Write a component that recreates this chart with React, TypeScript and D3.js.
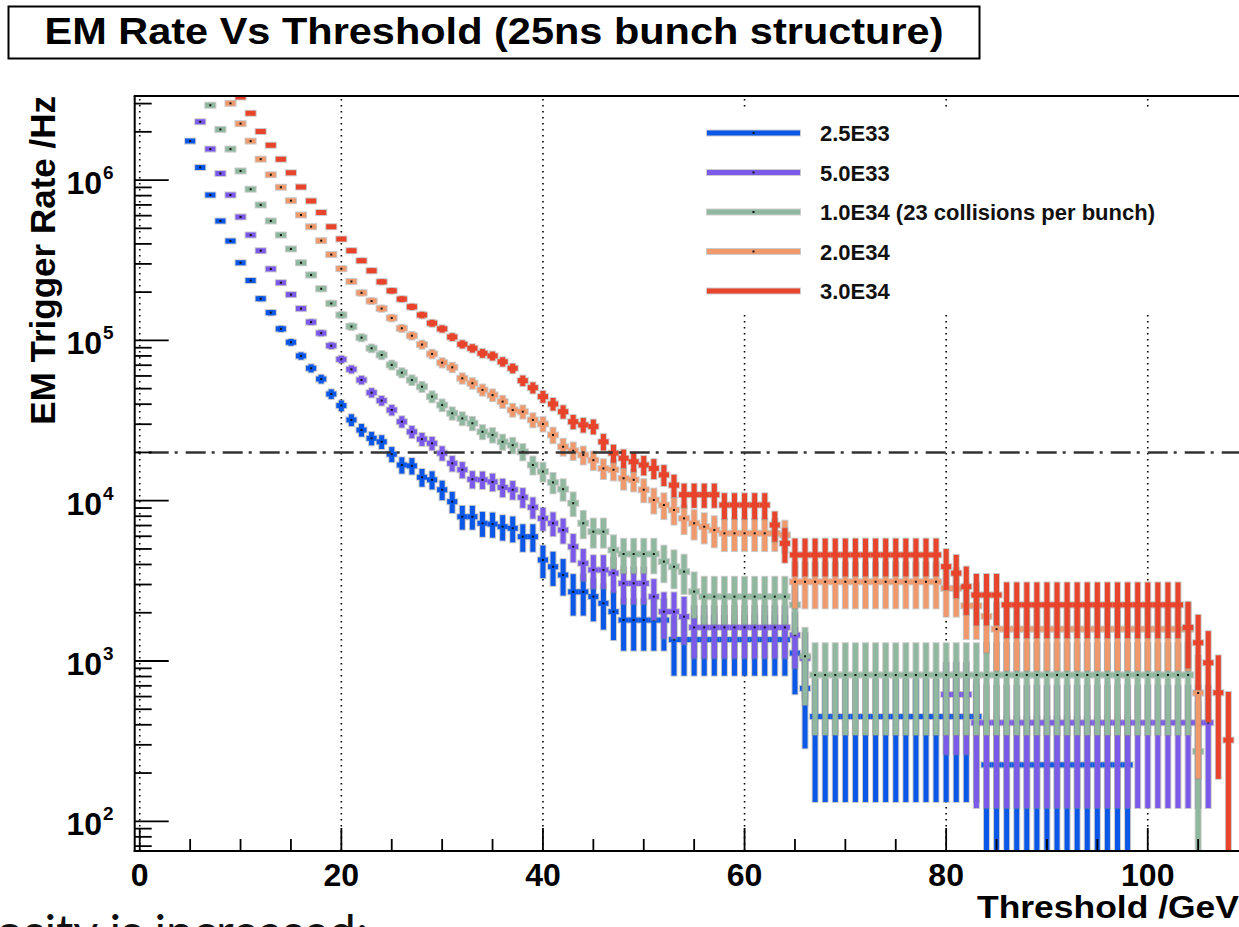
import React from "react";
import * as d3 from "d3";

const W = 1239;
const H = 927;
const FONT = "'Liberation Sans', Arial, Helvetica, sans-serif";

// ---- axes -------------------------------------------------------------
const xDomain: [number, number] = [-0.5, 120.5];
const yDomain: [number, number] = [65.27, 3.346e6];
const xMajorTicks = [0, 20, 40, 60, 80, 100, 120];
const xLabelTicks = [0, 20, 40, 60, 80, 100];
const xMinorTicks = [5, 10, 15, 25, 30, 35, 45, 50, 55, 65, 70, 75, 85, 90, 95, 105, 110, 115];
const yDecades = [100, 1000, 10000, 100000, 1000000];
const yDecadeExponents = ["2", "3", "4", "5", "6"];
const yMinorMultipliers = [2, 3, 4, 5, 6, 7, 8, 9];
const rateBudget = 20000; // dash-dot reference line

const titleText = "EM Rate Vs Threshold (25ns bunch structure)";
const xTitle = "Threshold /GeV";
const yTitle = "EM Trigger Rate /Hz";
const footText = "osity is increased:";

const seriesLabels = ["2.5E33", "5.0E33", "1.0E34 (23 collisions per bunch)", "2.0E34", "3.0E34"];
const seriesColors = ["#0b57e8", "#7b5aea", "#8fb89e", "#ef996d", "#e8432b"];
const seriesDots = [true, true, true, true, false];

// ---- 2.5E33 : bins 5..98 ---------------------------------------------
const blueStart = 5;
const blueRate = [
  1750000, 1200000, 807000, 556000, 417000, 305000, 236000, 182000, 149000, 118000,
  97300, 80000, 67000, 57400, 46300, 39200, 31900, 27600, 24500, 23300,
  19500, 16700, 16500, 14000, 13500, 11700, 9860, 7940, 7940, 7230,
  7150, 6880, 6730, 5960, 5960, 4270, 3870, 3440, 2700, 2700,
  2520, 2290, 2030, 1800, 1800, 1800, 1800, 1800, 1360, 1360,
  1360, 1360, 1360, 1360, 1360, 1360, 1360, 1360, 1360, 1360,
  1120, 675, 450, 450, 450, 450, 450, 450, 450, 450,
  450, 450, 450, 450, 450, 450, 450, 450, 450, 225,
  225, 225, 225, 225, 225, 225, 225, 225, 225, 225,
  225, 225, 225, 225,
];
const blueErr = [
  19800, 16400, 13500, 11200, 9700, 8300, 7300, 6400, 5800, 5200,
  4700, 4200, 3900, 3600, 3200, 3000, 2700, 2500, 2350, 2290,
  2100, 1940, 1930, 1770, 1740, 1620, 1490, 1340, 1340, 1280,
  1270, 1240, 1230, 1160, 1160, 980, 930, 880, 780, 780,
  750, 720, 680, 640, 640, 640, 640, 640, 550, 550,
  550, 550, 550, 550, 550, 550, 550, 550, 550, 550,
  500, 390, 318, 318, 318, 318, 318, 318, 318, 318,
  318, 318, 318, 318, 318, 318, 318, 318, 318, 225,
  225, 225, 225, 225, 225, 225, 225, 225, 225, 225,
  225, 225, 225, 225,
];

// ---- 5.0E33 : bins 6..106 (empty bins are null) ------------------------
const purpleStart = 6;
const purpleRate = [
  2310000, 1560000, 1100000, 807000, 589000, 454000, 363000, 279000, 229000, 193000,
  158000, 130000, 111000, 92700, 76200, 66000, 56600, 47200, 42100, 36800,
  31100, 26900, 24200, 22800, 19800, 17100, 15600, 13600, 13500, 13100,
  12100, 11700, 10500, 9100, 7760, 7230, 6560, 5160, 4070, 3700,
  3700, 3530, 3050, 3050, 3050, 2520, 2030, 2030, 1890, 1620,
  1620, 1620, 1620, 1620, 1620, 1620, 1620, 1620, 1620, 1450,
  1040, null, null, null, null, null, null, null, null, null,
  null, null, null, null, 618, 618, 618, 412, 412, 412,
  412, 412, 412, 412, 412, 412, 412, 412, 412, 412,
  412, 412, 412, 412, 412, 412, 412, 412, 412, 412,
  412,
];
const purpleErr = [
  21800, 17900, 15100, 12900, 11000, 9700, 8600, 7600, 6900, 6300,
  5700, 5200, 4800, 4400, 4000, 3700, 3400, 3100, 2900, 2750,
  2530, 2350, 2230, 2170, 2020, 1880, 1790, 1670, 1670, 1640,
  1580, 1550, 1470, 1370, 1260, 1220, 1160, 1030, 920, 870,
  870, 850, 790, 790, 790, 720, 650, 650, 620, 580,
  580, 580, 580, 580, 580, 580, 580, 580, 580, 550,
  460, null, null, null, null, null, null, null, null, null,
  null, null, null, null, 357, 357, 357, 291, 291, 291,
  291, 291, 291, 291, 291, 291, 291, 291, 291, 291,
  291, 291, 291, 291, 291, 291, 291, 291, 291, 291,
  291,
];

// ---- 1.0E34 : bins 7..105 ---------------------------------------------
const greenStart = 7;
const greenRate = [
  2930000, 2070000, 1560000, 1140000, 877000, 700000, 556000, 454000, 372000, 305000,
  256000, 210000, 170000, 144000, 122000, 104000, 89300, 81100, 70300, 62900,
  56600, 51400, 44600, 39500, 35100, 32600, 30400, 26900, 25700, 23300,
  22200, 20200, 16700, 15200, 13000, 11800, 9640, 7230, 6410, 6410,
  4920, 4650, 4650, 4650, 4650, 4170, 3870, 3610, 2710, 2520,
  2520, 2520, 2520, 2520, 2520, 2520, 2520, 2520, 2240, 1070,
  818, 818, 818, 818, 818, 818, 818, 818, 818, 818,
  818, 818, 818, 818, 818, 818, 818, 818, 818, 818,
  818, 818, 818, 818, 818, 818, 818, 818, 818, 818,
  818, 818, 818, 818, 818, 818, 818, 818, 273,
];
const greenErr = [
  28300, 23800, 20600, 17600, 15500, 13800, 12300, 11100, 10100, 9100,
  8400, 7600, 6800, 6300, 5800, 5300, 4900, 4700, 4400, 4100,
  3900, 3700, 3500, 3300, 3100, 3000, 2900, 2700, 2650, 2520,
  2460, 2350, 2140, 2040, 1880, 1800, 1620, 1400, 1320, 1320,
  1160, 1130, 1130, 1130, 1130, 1070, 1030, 990, 860, 830,
  830, 830, 830, 830, 830, 830, 830, 830, 780, 540,
  473, 473, 473, 473, 473, 473, 473, 473, 473, 473,
  473, 473, 473, 473, 473, 473, 473, 473, 473, 473,
  473, 473, 473, 473, 473, 473, 473, 473, 473, 473,
  473, 473, 473, 473, 473, 473, 473, 473, 273,
];

// ---- 2.0E34 : bins 9..105 ---------------------------------------------
const orangeStart = 9;
const orangeRate = [
  3010000, 2250000, 1750000, 1350000, 1080000, 902000, 744000, 606000, 512000, 419000,
  343000, 280000, 233000, 198000, 176000, 158000, 138000, 119000, 107000, 94200,
  82300, 72600, 67900, 58000, 54000, 49100, 45600, 41500, 36800, 35900,
  31900, 30100, 25700, 21700, 20500, 19300, 17900, 15900, 15600, 13800,
  13500, 11700, 10100, 9400, 8750, 7760, 7230, 6880, 6560, 6260,
  6260, 6260, 6260, 6260, 6260, 6110, 3120, 3120, 3120, 3120,
  3120, 3120, 3120, 3120, 3120, 3120, 3120, 3120, 3120, 3120,
  3120, 2840, 2840, 2210, 2210, 1900, 1580, 1580, 1580, 1580,
  1580, 1580, 1580, 1580, 1580, 1580, 1580, 1580, 1580, 1580,
  1580, 1580, 1580, 1580, 1580, 1580, 632,
];
const orangeErr = [
  30800, 26700, 23500, 20700, 18500, 16900, 15300, 13800, 12700, 11500,
  10400, 9400, 8600, 7900, 7500, 7100, 6600, 6100, 5800, 5500,
  5100, 4800, 4600, 4300, 4100, 3900, 3800, 3600, 3400, 3370,
  3200, 3100, 2850, 2620, 2550, 2470, 2380, 2240, 2220, 2090,
  2070, 1920, 1790, 1720, 1660, 1570, 1510, 1470, 1440, 1410,
  1410, 1410, 1410, 1410, 1410, 1390, 990, 990, 990, 990,
  990, 990, 990, 990, 990, 990, 990, 990, 990, 990,
  990, 950, 950, 840, 840, 770, 710, 710, 710, 710,
  710, 710, 710, 710, 710, 710, 710, 710, 710, 710,
  710, 710, 710, 710, 710, 710, 447,
];

// ---- 3.0E34 : bins 10..108 --------------------------------------------
const redStart = 10;
const redRate = [
  3300000, 2610000, 2010000, 1650000, 1350000, 1110000, 906000, 741000, 627000, 512000,
  429000, 363000, 314000, 272000, 232000, 204000, 181000, 162000, 144000, 128000,
  118000, 105000, 94600, 89300, 83100, 80000, 73600, 67000, 56100, 50700,
  44600, 40100, 35900, 31100, 29700, 29000, 23300, 19800, 18400, 17500,
  16700, 15900, 14500, 12500, 10900, 10900, 10900, 10900, 9400, 9400,
  9400, 9400, 9400, 7050, 5420, 4590, 4590, 4590, 4590, 4590,
  4590, 4590, 4590, 4590, 4590, 4590, 4590, 4590, 4590, 4590,
  3880, 3530, 2910, 2580, 2580, 2580, 2240, 2240, 2240, 2240,
  2240, 2240, 2240, 2240, 2240, 2240, 2240, 2240, 2240, 2240,
  2240, 2240, 2240, 2240, 1620, 1300, 975, 634, 321,
];
const redErr = [
  32500, 28900, 25400, 23000, 20800, 18800, 17000, 15400, 14200, 12800,
  11700, 10800, 10000, 9300, 8600, 8100, 7600, 7200, 6800, 6400,
  6100, 5800, 5500, 5300, 5200, 5100, 4900, 4600, 4200, 4000,
  3800, 3600, 3400, 3150, 3080, 3050, 2730, 2520, 2430, 2370,
  2310, 2260, 2150, 2000, 1870, 1870, 1870, 1870, 1730, 1730,
  1730, 1730, 1730, 1500, 1320, 1210, 1210, 1210, 1210, 1210,
  1210, 1210, 1210, 1210, 1210, 1210, 1210, 1210, 1210, 1210,
  1110, 1060, 970, 910, 910, 910, 850, 850, 850, 850,
  850, 850, 850, 850, 850, 850, 850, 850, 850, 850,
  850, 850, 850, 850, 720, 640, 560, 450, 320,
];

type Series = {
  label: string;
  color: string;
  dot: boolean;
  start: number;
  rate: (number | null)[];
  err: (number | null)[];
};

const series: Series[] = [
  { label: seriesLabels[0], color: seriesColors[0], dot: seriesDots[0], start: blueStart, rate: blueRate, err: blueErr },
  { label: seriesLabels[1], color: seriesColors[1], dot: seriesDots[1], start: purpleStart, rate: purpleRate, err: purpleErr },
  { label: seriesLabels[2], color: seriesColors[2], dot: seriesDots[2], start: greenStart, rate: greenRate, err: greenErr },
  { label: seriesLabels[3], color: seriesColors[3], dot: seriesDots[3], start: orangeStart, rate: orangeRate, err: orangeErr },
  { label: seriesLabels[4], color: seriesColors[4], dot: seriesDots[4], start: redStart, rate: redRate, err: redErr },
];

// ---- layout -----------------------------------------------------------
const frame = { left: 134.7, right: 1354.4, top: 96, bottom: 851 };
const legendBox = { x: 690, y: 110, w: 480, h: 205 };
const legendRowY = [133, 172.5, 212, 251.5, 291];
const BAR = 5;

const x = d3.scaleLinear().domain(xDomain).range([frame.left, frame.right]);
const y = d3.scaleLog().domain(yDomain).range([frame.bottom, frame.top]);

function Halo({ children }: { children: React.ReactNode }) {
  return (
    <g stroke="#8e8e8e" strokeWidth={BAR + 2} opacity={0.45}>
      {children}
    </g>
  );
}

function SeriesMarks({ s }: { s: Series }) {
  const marks = s.rate
    .map((v, i) => ({ n: s.start + i, v, e: s.err[i] }))
    .filter((b) => b.v != null)
    .map((b) => {
      const v = b.v as number;
      const e = (b.e ?? 0) as number;
      const lo = v - e;
      return {
        xc: x(b.n),
        x0: x(b.n - 0.5),
        x1: x(b.n + 0.5),
        yv: y(v),
        yHi: y(v + e),
        yLo: lo > yDomain[0] ? y(lo) : frame.bottom + 4,
      };
    });
  return (
    <g>
      <Halo>
        {marks.map((m, i) => (
          <g key={i}>
            <line x1={m.x0 - 1} x2={m.x1 + 1} y1={m.yv} y2={m.yv} />
            <line x1={m.xc} x2={m.xc} y1={m.yHi - 1} y2={m.yLo + 1} />
          </g>
        ))}
      </Halo>
      <g stroke={s.color} strokeWidth={BAR}>
        {marks.map((m, i) => (
          <g key={i}>
            <line x1={m.x0} x2={m.x1} y1={m.yv} y2={m.yv} />
            <line x1={m.xc} x2={m.xc} y1={m.yHi} y2={m.yLo} />
          </g>
        ))}
      </g>
      {s.dot && (
        <g fill="#111">
          {marks.map((m, i) => (
            <rect key={i} x={m.xc - 1} y={m.yv - 1} width={2} height={2} />
          ))}
        </g>
      )}
    </g>
  );
}

export default function App() {
  const yMinor: number[] = [];
  [10, 100, 1000, 10000, 100000, 1000000].forEach((d) =>
    yMinorMultipliers.forEach((k) => {
      const v = k * d;
      if (v > yDomain[0] && v < yDomain[1]) yMinor.push(v);
    })
  );

  return (
    <svg
      width={W}
      height={H}
      viewBox={`0 0 ${W} ${H}`}
      style={{ position: "absolute", left: 0, top: 0, display: "block", background: "#fff" }}
      fontFamily={FONT}
    >
      <defs>
        <clipPath id="plotArea">
          <rect x={frame.left} y={frame.top} width={frame.right - frame.left} height={frame.bottom - frame.top} />
        </clipPath>
      </defs>
      <rect x={0} y={0} width={W} height={H} fill="#fff" />

      {/* title box */}
      <rect x={8.5} y={6.5} width={971} height={52} fill="#fff" stroke="#000" strokeWidth={2} />
      <text
        x={494}
        y={44}
        textAnchor="middle"
        fontSize={37}
        fontWeight="bold"
        textLength={899}
        lengthAdjust="spacingAndGlyphs"
      >
        {titleText}
      </text>

      {/* vertical dotted grid */}
      <g stroke="#000" strokeWidth={1.6} strokeDasharray="1.6 4.4">
        {xMajorTicks.map((t) => (
          <line key={t} x1={x(t)} x2={x(t)} y1={frame.top + 3} y2={frame.bottom} />
        ))}
      </g>

      {/* histograms */}
      <g clipPath="url(#plotArea)">
        {series.map((s) => (
          <SeriesMarks key={s.label} s={s} />
        ))}
      </g>

      {/* rate budget line */}
      <line
        x1={frame.left}
        x2={frame.right}
        y1={y(rateBudget)}
        y2={y(rateBudget)}
        stroke="#333"
        strokeWidth={2.4}
        strokeDasharray="20 6 3 8"
        strokeDashoffset={-14}
      />

      {/* legend */}
      <rect x={legendBox.x} y={legendBox.y} width={legendBox.w} height={legendBox.h} fill="#fff" />
      {series.map((s, i) => (
        <g key={s.label}>
          <line x1={706} x2={801} y1={legendRowY[i]} y2={legendRowY[i]} stroke="#8e8e8e" strokeOpacity={0.45} strokeWidth={BAR + 2} />
          <line x1={707} x2={800} y1={legendRowY[i]} y2={legendRowY[i]} stroke={s.color} strokeWidth={BAR} />
          {s.dot && <rect x={752.5} y={legendRowY[i] - 1} width={2} height={2} fill="#111" />}
          <text x={820} y={legendRowY[i] + 8} fontSize={22} fontWeight="bold" fill="#111">
            {s.label}
          </text>
        </g>
      ))}

      {/* frame and axes */}
      <g stroke="#000" strokeWidth={2} fill="none">
        <line x1={frame.left} x2={frame.left} y1={frame.top} y2={frame.bottom + 1} />
        <line x1={frame.left - 1} x2={frame.right} y1={frame.bottom} y2={frame.bottom} />
        <line x1={frame.left - 1} x2={frame.right} y1={frame.top} y2={frame.top} />
      </g>
      <g stroke="#000" strokeWidth={1.8}>
        {xMajorTicks.map((t) => (
          <line key={t} x1={x(t)} x2={x(t)} y1={frame.bottom} y2={frame.bottom - 23} />
        ))}
        {xMinorTicks.map((t) => (
          <line key={t} x1={x(t)} x2={x(t)} y1={frame.bottom} y2={frame.bottom - 12} />
        ))}
        {yDecades.map((d) => (
          <line key={d} x1={frame.left} x2={frame.left + 34} y1={y(d)} y2={y(d)} />
        ))}
        {yMinor.map((d) => (
          <line key={d} x1={frame.left} x2={frame.left + 17} y1={y(d)} y2={y(d)} />
        ))}
      </g>

      {/* tick labels */}
      <g fontWeight="bold" fill="#000">
        {xLabelTicks.map((t) => (
          <text key={t} x={x(t)} y={886} textAnchor="middle" fontSize={32}>
            {String(t)}
          </text>
        ))}
        {yDecades.map((d, i) => (
          <g key={d}>
            <text x={102} y={y(d) + 14} textAnchor="end" fontSize={32}>
              10
            </text>
            <text x={103} y={y(d) - 1} textAnchor="start" fontSize={19}>
              {yDecadeExponents[i]}
            </text>
          </g>
        ))}
      </g>

      {/* axis titles */}
      <text
        x={1239}
        y={918}
        textAnchor="end"
        fontSize={31}
        fontWeight="bold"
        textLength={262}
        lengthAdjust="spacingAndGlyphs"
      >
        {xTitle}
      </text>
      <text
        transform={`translate(55, ${frame.top}) rotate(-90)`}
        textAnchor="end"
        fontSize={35}
        fontWeight="bold"
      >
        {yTitle}
      </text>

      {/* slide text running along the bottom edge */}
      <text
        x={-4}
        y={948}
        fontSize={46}
        fontFamily="Lato, 'Open Sans', sans-serif"
        fill="#111"
        textLength={372}
        lengthAdjust="spacingAndGlyphs"
      >
        {footText}
      </text>
    </svg>
  );
}
